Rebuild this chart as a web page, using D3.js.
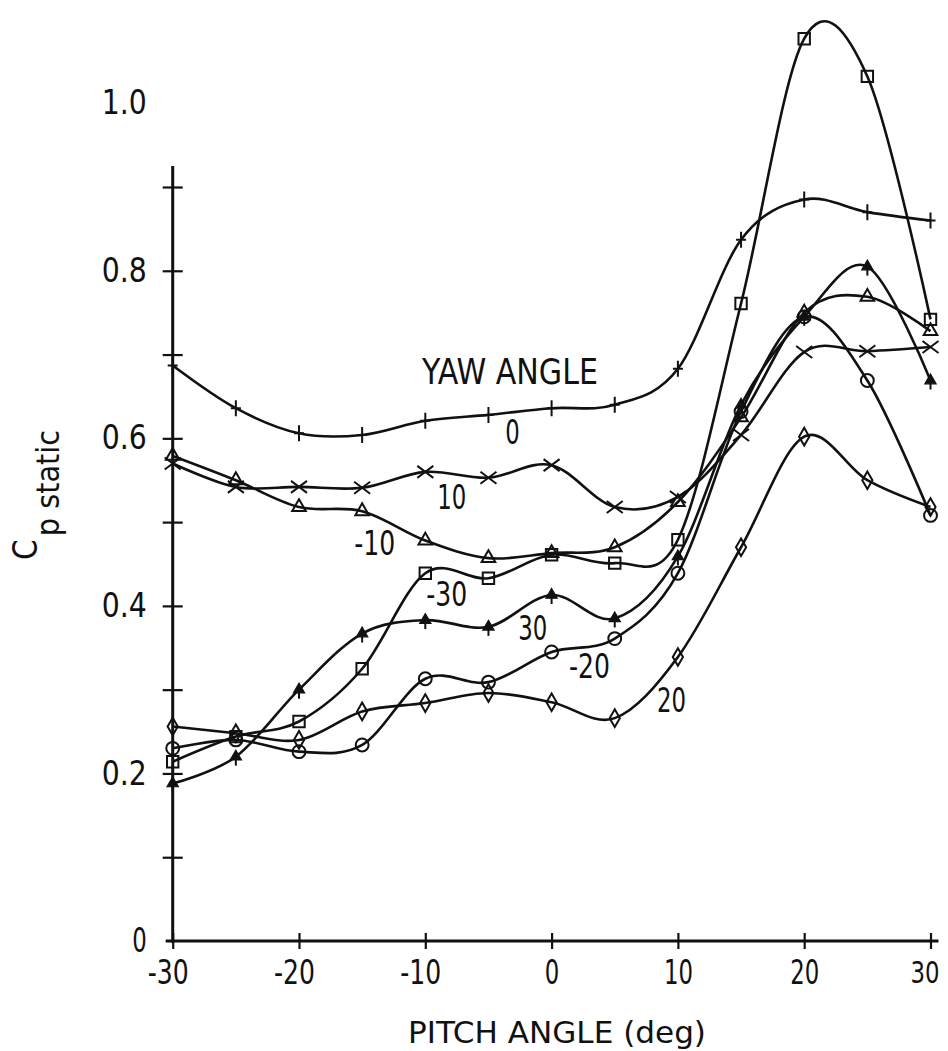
<!DOCTYPE html>
<html>
<head>
<meta charset="utf-8">
<script src="https://cdn.jsdelivr.net/npm/d3@7"></script>
<style>
  html, body { margin: 0; padding: 0; background: #fff; }
  svg { display: block; }
  text { font-family: "DejaVu Sans Condensed", "DejaVu Sans", "Liberation Sans", sans-serif; font-stretch: condensed; fill: #111; }
</style>
</head>
<body>
<svg id="chart" width="948" height="1051"></svg>
<script>
// Pitch angles (deg) at which the static pressure coefficient was measured
const pitch = [-30, -25, -20, -15, -10, -5, 0, 5, 10, 15, 20, 25, 30];

// Cp static for each yaw angle
const yaw0    = [0.687, 0.636, 0.606, 0.604, 0.621, 0.628, 0.636, 0.640, 0.683, 0.837, 0.885, 0.870, 0.860];
const yaw10   = [0.570, 0.542, 0.542, 0.541, 0.560, 0.553, 0.568, 0.518, 0.530, 0.604, 0.703, 0.704, 0.709];
const yawM10  = [0.579, 0.550, 0.518, 0.513, 0.478, 0.457, 0.463, 0.470, 0.524, 0.625, 0.750, 0.769, 0.728];
const yawM30  = [0.214, 0.244, 0.262, 0.325, 0.439, 0.433, 0.461, 0.451, 0.479, 0.761, 1.077, 1.032, 0.742];
const yaw30   = [0.188, 0.220, 0.300, 0.367, 0.383, 0.375, 0.413, 0.385, 0.459, 0.640, 0.745, 0.805, 0.669];
const yawM20  = [0.230, 0.240, 0.226, 0.234, 0.313, 0.309, 0.345, 0.361, 0.439, 0.632, 0.745, 0.669, 0.508];
const yaw20   = [0.256, 0.248, 0.240, 0.274, 0.284, 0.296, 0.285, 0.266, 0.339, 0.470, 0.602, 0.550, 0.518];

// Axis ticks and labels
const xTicks = [-30, -20, -10, 0, 10, 20, 30];
const yTicks = [0.1, 0.2, 0.3, 0.4, 0.5, 0.6, 0.7, 0.8, 0.9];
const yLabels = [0, 0.2, 0.4, 0.6, 0.8, 1.0];

// Curve labels: text and anchor in data units
const curveLabelText = ["YAW ANGLE", "0", "10", "-10", "-30", "30", "-20", "20"];
const curveLabelX    = [-3.3, -3.1, -7.9, -14.0, -8.3, -1.5, 3.0, 9.5];
const curveLabelY    = [0.680, 0.608, 0.530, 0.475, 0.414, 0.374, 0.328, 0.288];

const series = [
  { values: yaw0,   marker: "plus" },
  { values: yaw10,  marker: "cross" },
  { values: yawM10, marker: "triangle" },
  { values: yawM30, marker: "square" },
  { values: yaw30,  marker: "flag" },
  { values: yawM20, marker: "circle" },
  { values: yaw20,  marker: "diamond" }
];

const svg = d3.select("#chart");
const ink = "#111";

// narrow numeral widths used for the condensed lettering
const numWidth = s => Array.from(s).reduce((w, c) =>
  w + (c === "-" ? 12 : c === "." ? 16 : 14.5), 0);
const narrow = (sel, fn) => sel
  .attr("textLength", fn)
  .attr("lengthAdjust", "spacingAndGlyphs");

const x = d3.scaleLinear().domain([-30, 30]).range([172.7, 930.5]);
const y = d3.scaleLinear().domain([0, 0.9]).range([941, 187]);

// ---- axes ----
// y axis line (stops a little above the 0.9 tick)
svg.append("line")
  .attr("x1", x(-30)).attr("x2", x(-30))
  .attr("y1", y(0) + 2).attr("y2", y(0.925))
  .attr("stroke", ink).attr("stroke-width", 3);

// x axis line
svg.append("line")
  .attr("x1", x(-30) - 7).attr("x2", x(30) + 8)
  .attr("y1", y(0)).attr("y2", y(0))
  .attr("stroke", ink).attr("stroke-width", 3);

// y ticks crossing the axis
const yTickAxis = svg.append("g")
  .attr("transform", `translate(${x(-30)},0)`)
  .call(d3.axisLeft(y).tickValues(yTicks).tickSize(10).tickFormat(""));
yTickAxis.select(".domain").remove();
yTickAxis.selectAll(".tick line").attr("x1", -10).attr("x2", 10)
  .attr("stroke", ink).attr("stroke-width", 2.2);

// y labels
const yLabelAxis = svg.append("g")
  .attr("transform", `translate(${x(-30)},0)`)
  .call(d3.axisLeft(y).tickValues(yLabels).tickSize(0).tickPadding(26)
    .tickFormat(d => d === 0 ? "0" : d3.format(".1f")(d)));
yLabelAxis.select(".domain").remove();
yLabelAxis.selectAll(".tick text")
  .attr("font-family", null).attr("font-size", 33).attr("fill", ink)
  .call(narrow, function () { return numWidth(this.textContent); });

// x ticks crossing the axis
const xTickAxis = svg.append("g")
  .attr("transform", `translate(0,${y(0)})`)
  .call(d3.axisBottom(x).tickValues(xTicks).tickSize(8).tickFormat(""));
xTickAxis.select(".domain").remove();
xTickAxis.selectAll(".tick line").attr("y1", -8).attr("y2", 8)
  .attr("stroke", ink).attr("stroke-width", 2.2);

// x labels
const xLabelAxis = svg.append("g")
  .attr("transform", `translate(0,${y(0)})`)
  .call(d3.axisBottom(x).tickValues(xTicks).tickSize(0).tickPadding(20)
    .tickFormat(d => String(d)));
xLabelAxis.select(".domain").remove();
xLabelAxis.selectAll(".tick text")
  .attr("font-family", null).attr("font-size", d => d === 30 ? 31 : 33).attr("fill", ink)
  .attr("dx", d => d < 0 ? -5 : d === 30 ? -6 : 0)
  .call(narrow, function () { return numWidth(this.textContent); });

// axis titles
svg.append("text")
  .attr("x", 557).attr("y", 1043)
  .attr("text-anchor", "middle")
  .attr("font-size", 31)
  .call(narrow, 298)
  .text("PITCH ANGLE (deg)");

const yTitle = svg.append("text")
  .attr("transform", "translate(37,560) rotate(-90)")
  .attr("font-size", 33);
yTitle.append("tspan").text("C");
yTitle.append("tspan").attr("dy", 22).attr("dx", 3).attr("font-size", 32).text("p static");

// ---- curves ----
const line = d3.line()
  .x((d, i) => x(pitch[i]))
  .y(d => y(d))
  .curve(d3.curveCardinal.tension(0));

svg.append("g").selectAll("path")
  .data(series)
  .join("path")
  .attr("d", s => line(s.values))
  .attr("fill", "none")
  .attr("stroke", ink)
  .attr("stroke-width", 2.6)
  .attr("stroke-linejoin", "round");

// ---- markers ----
const sym = (type, size) => d3.symbol().type(type).size(size)();
const markerPath = {
  plus: "M-5,0H5M0,-8V8",
  cross: "M-8,-6L8,6M-8,6L8,-6",
  triangle: sym(d3.symbolTriangle, 80),
  square: sym(d3.symbolSquare, 130),
  circle: sym(d3.symbolCircle, 130),
  diamond: sym(d3.symbolDiamond, 90)
};

series.forEach(s => {
  const g = svg.append("g");
  const pts = g.selectAll("g")
    .data(s.values)
    .join("g")
    .attr("transform", (d, i) => `translate(${x(pitch[i])},${y(d)})`);
  if (s.marker === "flag") {
    pts.append("path").attr("d", sym(d3.symbolTriangle, 55))
      .attr("fill", ink).attr("stroke", ink).attr("stroke-width", 1.2);
    pts.append("path").attr("d", "M0,-2V9")
      .attr("stroke", ink).attr("stroke-width", 2);
  } else {
    pts.append("path").attr("d", markerPath[s.marker])
      .attr("fill", "none").attr("stroke", ink).attr("stroke-width", 2);
  }
});

// ---- curve labels ----
svg.append("g").selectAll("text")
  .data(curveLabelText)
  .join("text")
  .attr("x", (d, i) => x(curveLabelX[i]))
  .attr("y", (d, i) => y(curveLabelY[i]))
  .attr("text-anchor", "middle")
  .attr("dominant-baseline", "central")
  .attr("font-size", (d, i) => i === 0 ? 36 : 34)
  .call(narrow, (d, i) => i === 0 ? 176 : numWidth(d))
  .text(d => d);
</script>
</body>
</html>
